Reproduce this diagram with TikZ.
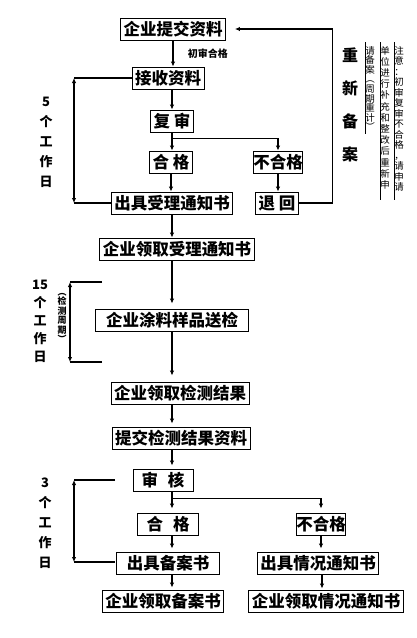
\documentclass[tikz,border=0pt]{standalone}
\usepackage{fontspec}
\setmainfont{Noto Sans CJK SC}
\usetikzlibrary{arrows.meta, positioning}

\begin{document}
\begin{tikzpicture}[x=1pt,y=-1pt,
          box/.style={draw,line width=0.9pt,inner xsep=3pt,inner ysep=1pt,
                      minimum height=22pt,font=\fontsize{16.5}{16.5}\selectfont\bfseries},
          arr/.style={-{Latex[length=5pt,width=4.5pt]},line width=1.3pt},
          dbl/.style={{Latex[length=5pt,width=4.5pt]}-{Latex[length=5pt,width=4.5pt]},line width=1.3pt},
          days/.style={align=center,inner sep=0pt,font=\fontsize{13}{20}\selectfont\bfseries},
          note/.style={align=center,inner sep=0pt,text width=11pt,font=\fontsize{9.5}{10.5}\selectfont}]
        \useasboundingbox (0,0) rectangle (416,638);
        % upper part: submission and acceptance
        \node[box](submit) at (173,29) {企业提交资料};
        \node[box](recv) at (168,78) {接收资料};
        \node[box](rev) at (172,121) {复\ 审};
        \node[box](pass1) at (171,162) {合\ 格};
        \node[box,inner xsep=0pt](fail1) at (278,162) {不合格};
        \node[box](notice) at (172,203) {出具受理通知书};
        \node[box](back) at (277,203) {退\ 回};
        \draw[arr](submit.south)--(submit.south |- recv.north)
          node[midway,right=11pt,font=\fontsize{10}{10}\selectfont\bfseries]{初审合格};
        \draw[arr](rev.north |- recv.south)--(rev.north);
        \draw[arr](rev.south)--(rev.south |- pass1.north);
        \draw[arr](rev.south) ++(0,6) -| (fail1.north);
        \draw[arr](pass1.south)--(pass1.south |- notice.north);
        \draw[arr](fail1.south)--(fail1.south |- back.north);
        \draw[arr](back.east)--++(34,0) |- ([xshift=9pt]submit.east);
        % 5 working days
        \coordinate (d5) at (74,0);
        \draw[line width=1.3pt](recv.west)--(recv.west -| d5);
        \draw[line width=1.3pt](notice.west)--(notice.west -| d5);
        \draw[dbl](recv.west -| d5)--(notice.west -| d5);
        \node[days](lab5) at (46,142) {5\\个\\工\\作\\日};
        % re-filing and note
        \node[days,font=\fontsize{16}{33}\selectfont\bfseries](renew) at (350,105) {重\\新\\备\\案};
        \node[note,anchor=north](col1) at (399,46)
          {注\\意\\：\\初\\审\\复\\审\\不\\合\\格\\，\\请\\申\\请};
        \node[note,anchor=north,font=\fontsize{9.5}{11.2}\selectfont](col2) at (385,46)
          {单\\位\\进\\行\\补\\充\\和\\整\\改\\后\\重\\新\\申};
        \node[note,anchor=north,font=\fontsize{9.5}{9.6}\selectfont](col3) at (370,46)
          {请\\备\\案\\︵\\周\\期\\重\\计\\︶};
        \coordinate (c1t) at (394,42);
        \coordinate (c1b) at (394,200);
        \coordinate (c2t) at (380,42);
        \coordinate (c2b) at (380,200);
        \coordinate (c3t) at (365,42);
        \coordinate (c3b) at (365,134);
        \draw[line width=0.8pt](c1t)--(c1b);
        \draw[line width=0.8pt](c2t)--(c2b);
        \draw[line width=0.8pt](c3t)--(c3b);
        % middle part: testing
        \node[box,minimum width=151pt](getnotice) at (177,249) {企业领取受理通知书};
        \node[box,minimum width=153pt](sample) at (172,320) {企业涂料样品送检};
        \node[box](result) at (180,393) {企业领取检测结果};
        \draw[arr](notice.south)--(notice.south |- getnotice.north);
        \draw[arr,shorten >=5pt](notice.south |- getnotice.south)--(notice.south |- sample.north);
        \draw[arr,shorten >=6pt](sample.south)--(sample.south |- result.north);
        % 15 working days
        \coordinate (t15a) at (70,282);
        \coordinate (t15b) at (102,282);
        \coordinate (b15a) at (70,362);
        \coordinate (b15b) at (102,362);
        \draw[line width=1.3pt](t15b)--(t15a);
        \draw[line width=1.3pt](b15b)--(b15a);
        \draw[dbl](t15a)--(b15a);
        \node[days,font=\fontsize{13}{18}\selectfont\bfseries](lab15) at (40,321) {15\\个\\工\\作\\日};
        \node[note,font=\fontsize{9}{9.5}\selectfont\bfseries](cycle) at (62,318) {︵\\检\\测\\周\\期\\︶};
        % lower part: review and filing
        \node[box](subres) at (181,438) {提交检测结果资料};
        \node[box,minimum width=60pt](audit) at (163,480) {审\hspace{10pt}核};
        \node[box,minimum width=61pt](pass2) at (168,524) {合\hspace{10pt}格};
        \node[box,inner xsep=0pt](fail2) at (321,524) {不合格};
        \node[box,minimum width=103pt](record) at (168,563) {出具备案书};
        \node[box](inform) at (318,563) {出具情况通知书};
        \node[box,minimum width=118pt](getrec) at (163,601) {企业领取备案书};
        \node[box](getinf) at (326,601) {企业领取情况通知书};
        \draw[arr,shorten >=3pt](notice.south |- result.south)--(notice.south |- subres.north);
        \draw[arr,shorten >=3pt](notice.south |- subres.south)--(notice.south |- audit.north);
        \draw[arr,shorten >=4pt]([xshift=9pt]audit.south)--([xshift=9pt]audit.south |- pass2.north);
        \draw[arr,shorten >=4pt]([xshift=9pt]audit.south) ++(0,7) -| (fail2.north);
        \draw[arr,shorten >=3pt]([xshift=4pt]pass2.south)--([xshift=4pt]pass2.south |- record.north);
        \draw[arr,shorten >=3pt](fail2.south)--(fail2.south |- inform.north);
        \draw[arr,shorten >=2pt]([xshift=4pt]record.south)--([xshift=4pt]record.south |- getrec.north);
        \draw[arr,shorten >=1pt]([xshift=4pt]inform.south)--([xshift=4pt]inform.south |- getinf.north);
        % 3 working days
        \coordinate (t3a) at (74,480);
        \coordinate (t3b) at (115,480);
        \coordinate (b3a) at (74,562);
        \coordinate (b3b) at (115,562);
        \draw[line width=1.3pt](t3b)--(t3a);
        \draw[line width=1.3pt](b3b)--(b3a);
        \draw[dbl](t3a)--(b3a);
        \node[days](lab3) at (45,523) {3\\个\\工\\作\\日};
      \end{tikzpicture}
\end{document}
